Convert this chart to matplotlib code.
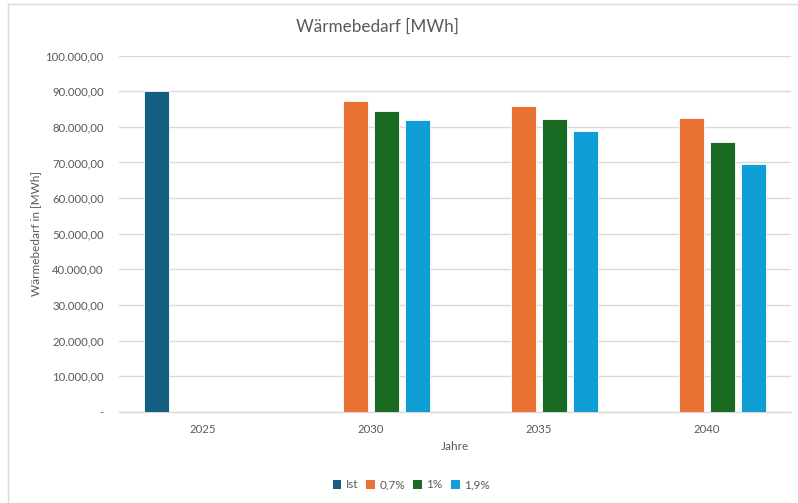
import matplotlib
matplotlib.use("Agg")
import matplotlib.pyplot as plt
import numpy as np
from matplotlib.lines import Line2D
from matplotlib.patches import Patch

years = ["2025", "2030", "2035", "2040"]
series_names = ["Ist", "0,7%", "1%", "1,9%"]
ist = [90000, np.nan, np.nan, np.nan]
p07 = [np.nan, 87300, 86000, 82600]
p1 = [np.nan, 84500, 82200, 75800]
p19 = [np.nan, 81900, 78800, 69700]
colors = ["#156082", "#E97132", "#196B24", "#0F9ED5"]
yticks = [0, 10000, 20000, 30000, 40000, 50000, 60000, 70000, 80000, 90000, 100000]

plt.rcParams['font.family'] = ['Lato', 'DejaVu Sans']
txt = "#595959"

fig = plt.figure(figsize=(7.98, 5.03), dpi=100)
W, H = 798, 503
ax = fig.add_axes([119/W, 1 - 411.7/H, (791-119)/W, (411.7-55.7)/H])

x = np.arange(len(years))
pitch = 0.185
bw = 0.145
data = [ist, p07, p1, p19]
for i, (vals, c) in enumerate(zip(data, colors)):
    ax.bar(x + (i - 1.5) * pitch, vals, width=bw, color=c, edgecolor="#ffffff", linewidth=0.6, zorder=3)

ax.set_xlim(-0.5, 3.5)
ax.set_ylim(0, 100000)
ax.set_yticks(yticks)

def fmt(v):
    if v == 0:
        return "-"
    s = f"{v:,.2f}"
    return s.replace(",", "X").replace(".", ",").replace("X", ".")

ax.set_yticklabels([fmt(v) for v in yticks])
ax.set_xticks(x)
ax.set_xticklabels(years)
ax.tick_params(axis="both", length=0, colors=txt, labelsize=8.2)
ax.tick_params(axis="y", pad=11)
ax.tick_params(axis="x", pad=9)
ax.grid(axis="y", color="#d9d9d9", linewidth=1, zorder=0)
for s in ["top", "right", "left"]:
    ax.spines[s].set_visible(False)
ax.spines["bottom"].set_color("#d9d9d9")
ax.spines["bottom"].set_linewidth(1)

fig.text(377/W, 1 - 27/H, "Wärmebedarf [MWh]", ha="center", va="center", fontsize=12.3, color=txt)
fig.text(36/W, 1 - 233/H, "Wärmebedarf in [MWh]", ha="center", va="center", rotation=90, fontsize=8.5, color=txt)
fig.text(455/W, 1 - 447/H, "Jahre", ha="center", va="center", fontsize=8.5, color=txt)

handles = [Patch(facecolor=c, edgecolor="none") for c in colors]
leg = fig.legend(handles, series_names, loc="center", bbox_to_anchor=(411/W, 1 - 485/H), ncol=4,
                 frameon=False, fontsize=8.5, handlelength=0.75, handleheight=0.75,
                 handletextpad=0.35, columnspacing=0.7, labelcolor=txt)

fig.add_artist(Line2D([8/W, 8/W], [0, 1 - 4/H], transform=fig.transFigure, color="#d9d9d9", linewidth=1))
fig.add_artist(Line2D([8/W, 1], [1 - 4/H, 1 - 4/H], transform=fig.transFigure, color="#d9d9d9", linewidth=1))

fig.savefig("out.png", dpi=100)
